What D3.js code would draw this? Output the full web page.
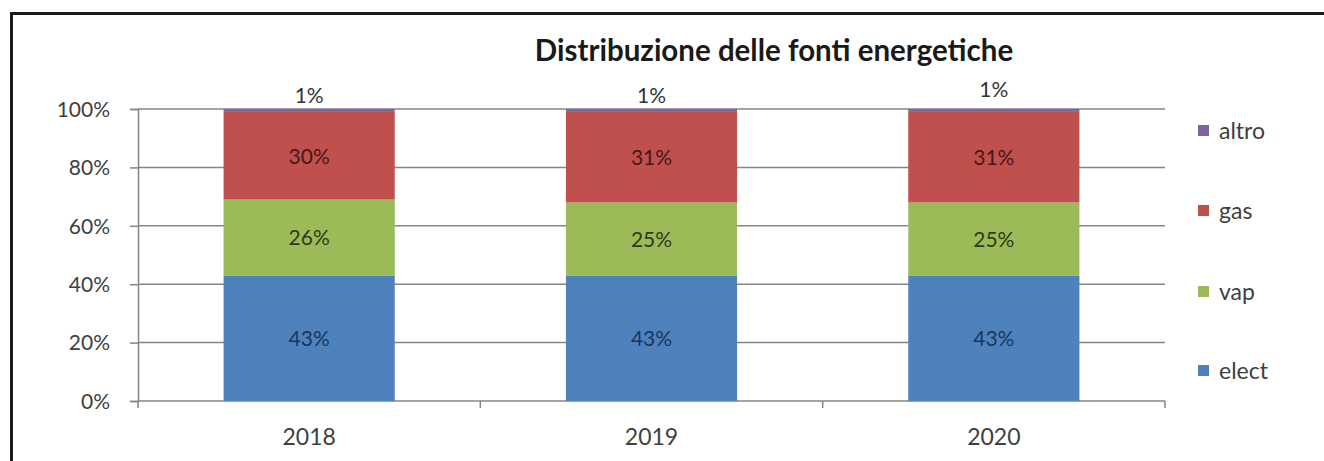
<!DOCTYPE html>
<html><head><meta charset="utf-8">
<script src="https://cdn.jsdelivr.net/npm/d3@7"></script>
<style>body{margin:0;background:#fff}svg{display:block}text{font-family:Lato,"Open Sans",sans-serif}</style>
</head><body><svg id="c" width="1324" height="461"></svg>
<script>
const categories = ["2018","2019","2020"];
const seriesNames = ["elect","vap","gas","altro"];
const elect = [43,43,43];
const vap = [26,25,25];
const gas = [30,31,31];
const altro = [1,1,1];
const yTicks = [0,20,40,60,80,100];
const colors = {elect:"#4F81BD",vap:"#9BBB59",gas:"#C0504D",altro:"#8064A2"};
const labelColors = {elect:"#17375E",vap:"#2E3A1A",gas:"#4A1614",altro:"#333"};

const svg = d3.select("#c");
// frame
svg.append("path").attr("d","M11.5,461 V13.5 H1324").attr("fill","none").attr("stroke","#1a1a1a").attr("stroke-width",3);

const x0=138,x1=1165,yTop=109,yBot=401;
const x = d3.scaleBand().domain(categories).range([x0,x1]).paddingInner(0.5).paddingOuter(0.25);
const xb = d3.scaleBand().domain(categories).range([x0,x1]);
const y = d3.scaleLinear().domain([0,100]).range([yBot,yTop]);

// gridlines
svg.append("g").selectAll("line").data(yTicks.filter(d=>d>0)).join("line")
  .attr("x1",x0).attr("x2",x1).attr("y1",d=>y(d)).attr("y2",d=>y(d))
  .attr("stroke","#858585").attr("stroke-width",1.5);

// y axis
const ya = svg.append("g").attr("transform",`translate(${x0},0)`)
  .call(d3.axisLeft(y).tickValues(yTicks).tickFormat(d=>d+"%").tickSize(8).tickPadding(20));
ya.select(".domain").attr("stroke","#858585").attr("stroke-width",1.5);
ya.selectAll(".tick line").attr("stroke","#858585").attr("stroke-width",1.5);
ya.selectAll("text").attr("font-size",21).attr("fill","#404040").attr("font-family","Lato,sans-serif").attr("dy","0.35em");

// x axis
const xa = svg.append("g").attr("transform",`translate(0,${yBot})`);
xa.append("line").attr("x1",x0).attr("x2",x1).attr("stroke","#858585").attr("stroke-width",1.5);
xa.selectAll("line.t").data([x0].concat(categories.map(c=>xb(c)+xb.bandwidth()))).join("line")
  .attr("class","t").attr("x1",d=>d).attr("x2",d=>d).attr("y1",0).attr("y2",7)
  .attr("stroke","#858585").attr("stroke-width",1.5);
xa.selectAll("text").data(categories).join("text")
  .attr("x",d=>xb(d)+xb.bandwidth()/2).attr("y",44).attr("text-anchor","middle")
  .attr("font-size",23).attr("fill","#404040").text(d=>d);

// stacked data
const rows = categories.map((c,i)=>({cat:c,elect:elect[i],vap:vap[i],gas:gas[i],altro:altro[i]}));
const stack = d3.stack().keys(seriesNames)(rows);

const bars = svg.append("g");
stack.forEach(layer=>{
  bars.selectAll(null).data(layer).join("rect")
    .attr("x",d=>x(d.data.cat)).attr("width",x.bandwidth())
    .attr("y",d=>y(d[1])).attr("height",d=>y(d[0])-y(d[1]))
    .attr("fill",colors[layer.key]);
});
stack.forEach(layer=>{
  bars.selectAll(null).data(layer).join("text")
    .attr("x",d=>x(d.data.cat)+x.bandwidth()/2)
    .attr("y",(d,i)=> layer.key==="altro" ? y(d[1])-6-(i===2?6:0) : (y(d[0])+y(d[1]))/2+8)
    .attr("text-anchor","middle").attr("font-size",21)
    .attr("fill",labelColors[layer.key])
    .text(d=>(d[1]-d[0])+"%");
});

// title
svg.append("text").attr("x",774).attr("y",61).attr("text-anchor","middle")
  .attr("font-size",29.5).attr("font-weight","bold").attr("fill","#1a1a1a")
  .text("Distribuzione delle fonti energetiche");

// legend
const legY = {altro:131,gas:211,vap:292,elect:371};
const lg = svg.append("g");
seriesNames.forEach(k=>{
  lg.append("rect").attr("x",1198).attr("y",legY[k]-6).attr("width",11).attr("height",11).attr("fill",colors[k]);
  lg.append("text").attr("x",1219).attr("y",legY[k]+8).attr("font-size",23).attr("fill","#404040").text(k);
});
</script></body></html>
